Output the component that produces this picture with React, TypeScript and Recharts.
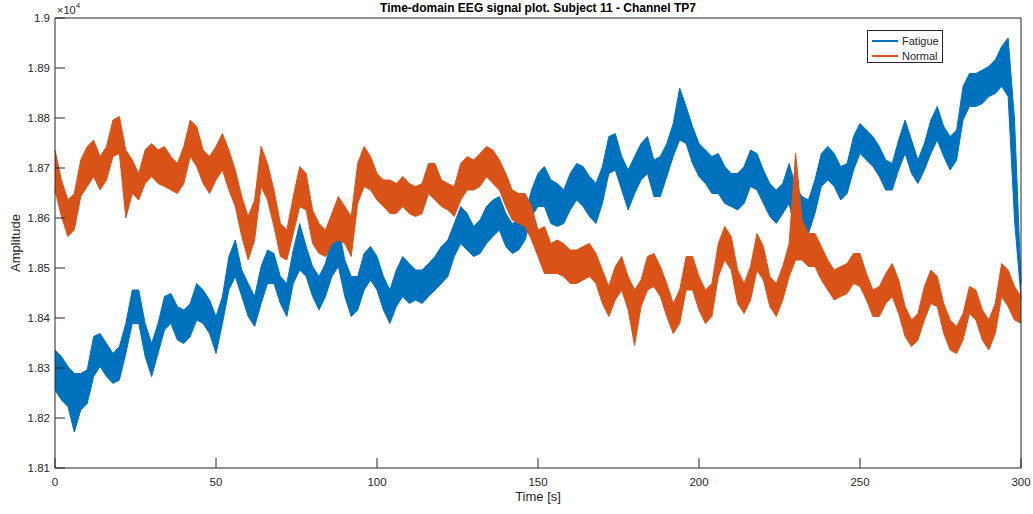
import { ComposedChart, Area, XAxis, YAxis } from 'recharts'

// envelope readings every 2 s (t = 0, 2, ..., 300), amplitude units
const sampleStep = 2

const fatigueHi = [
  18336, 18323, 18303, 18289, 18289, 18296, 18363, 18369, 18349, 18329,
  18343, 18389, 18456, 18456, 18389, 18349, 18389, 18443, 18449, 18423,
  18416, 18429, 18469, 18456, 18436, 18403, 18443, 18523, 18556, 18496,
  18469, 18443, 18503, 18536, 18529, 18483, 18469, 18536, 18589, 18543,
  18503, 18483, 18509, 18563, 18583, 18516, 18483, 18483, 18529, 18543,
  18523, 18483, 18456, 18496, 18523, 18509, 18496, 18496, 18509, 18523,
  18543, 18556, 18589, 18623, 18609, 18583, 18596, 18623, 18636, 18643,
  18609, 18589, 18596, 18609, 18656, 18689, 18703, 18676, 18669, 18656,
  18689, 18709, 18703, 18683, 18669, 18703, 18763, 18769, 18723, 18696,
  18723, 18749, 18763, 18716, 18723, 18749, 18789, 18860, 18823, 18783,
  18749, 18736, 18723, 18729, 18703, 18689, 18689, 18703, 18736, 18729,
  18696, 18669, 18656, 18669, 18709, 18663, 18643, 18636, 18676, 18729,
  18743, 18729, 18703, 18709, 18763, 18789, 18776, 18763, 18743, 18716,
  18709, 18756, 18796, 18756, 18716, 18749, 18796, 18823, 18783, 18763,
  18776, 18863, 18889, 18889, 18896, 18903, 18916, 18943, 18960, 18796,
  18470,
]

const fatigueLo = [
  18256, 18236, 18223, 18172, 18216, 18229, 18283, 18303, 18283, 18269,
  18276, 18329, 18389, 18389, 18323, 18283, 18329, 18376, 18389, 18356,
  18349, 18363, 18396, 18389, 18369, 18329, 18389, 18456, 18483, 18443,
  18403, 18383, 18429, 18469, 18469, 18429, 18403, 18469, 18496, 18483,
  18443, 18416, 18443, 18483, 18503, 18443, 18403, 18416, 18456, 18476,
  18456, 18416, 18389, 18423, 18443, 18429, 18436, 18429, 18443, 18456,
  18469, 18483, 18523, 18549, 18536, 18523, 18529, 18549, 18563, 18576,
  18543, 18529, 18536, 18556, 18603, 18623, 18623, 18589, 18583, 18589,
  18616, 18636, 18623, 18603, 18589, 18629, 18689, 18696, 18656, 18616,
  18649, 18676, 18689, 18643, 18643, 18683, 18723, 18756, 18749, 18709,
  18683, 18669, 18649, 18649, 18629, 18623, 18616, 18629, 18663, 18656,
  18629, 18603, 18589, 18609, 18629, 18569, 18583, 18569, 18609, 18663,
  18676, 18663, 18636, 18649, 18696, 18729, 18716, 18703, 18683, 18656,
  18656, 18696, 18729, 18689, 18669, 18696, 18729, 18756, 18723, 18696,
  18716, 18796, 18823, 18823, 18829, 18843, 18849, 18863, 18843, 18596,
  18440,
]

const normalHi = [
  18736, 18676, 18636, 18649, 18716, 18743, 18756, 18723, 18743, 18796,
  18803, 18736, 18716, 18689, 18736, 18749, 18736, 18743, 18723, 18709,
  18743, 18796, 18783, 18736, 18723, 18743, 18769, 18736, 18696, 18643,
  18603, 18636, 18743, 18709, 18656, 18589, 18576, 18643, 18703, 18689,
  18616, 18589, 18576, 18609, 18643, 18623, 18603, 18709, 18743, 18723,
  18689, 18676, 18676, 18669, 18683, 18669, 18663, 18669, 18709, 18709,
  18676, 18669, 18663, 18709, 18723, 18716, 18729, 18743, 18736, 18716,
  18689, 18656, 18649, 18649, 18623, 18576, 18583, 18549, 18556, 18549,
  18536, 18536, 18543, 18549, 18529, 18496, 18463, 18503, 18523, 18483,
  18456, 18476, 18523, 18529, 18503, 18469, 18429, 18456, 18523, 18523,
  18483, 18456, 18469, 18549, 18583, 18563, 18496, 18469, 18503, 18569,
  18543, 18483, 18469, 18503, 18549, 18730, 18596, 18569, 18569, 18543,
  18516, 18496, 18503, 18509, 18529, 18529, 18489, 18456, 18463, 18489,
  18509, 18476, 18423, 18396, 18409, 18463, 18496, 18483, 18429, 18396,
  18383, 18409, 18463, 18456, 18416, 18396, 18429, 18509, 18496, 18463,
  18443,
]

const normalLo = [
  18656, 18603, 18563, 18576, 18643, 18663, 18683, 18656, 18676, 18723,
  18729, 18600, 18649, 18636, 18669, 18683, 18669, 18663, 18656, 18649,
  18669, 18723, 18703, 18669, 18649, 18676, 18696, 18656, 18623, 18563,
  18516, 18556, 18663, 18636, 18583, 18523, 18516, 18569, 18623, 18616,
  18549, 18529, 18523, 18549, 18556, 18549, 18523, 18629, 18663, 18656,
  18636, 18623, 18609, 18609, 18623, 18609, 18603, 18609, 18649, 18636,
  18623, 18616, 18603, 18636, 18656, 18656, 18663, 18683, 18669, 18656,
  18623, 18596, 18589, 18583, 18556, 18523, 18489, 18489, 18489, 18483,
  18469, 18469, 18476, 18483, 18469, 18429, 18403, 18436, 18456, 18416,
  18345, 18423, 18456, 18463, 18443, 18403, 18369, 18389, 18456, 18456,
  18416, 18389, 18403, 18483, 18516, 18496, 18429, 18409, 18436, 18496,
  18476, 18423, 18403, 18436, 18483, 18516, 18516, 18503, 18503, 18476,
  18456, 18436, 18443, 18449, 18469, 18463, 18436, 18403, 18403, 18429,
  18443, 18409, 18363, 18343, 18356, 18396, 18429, 18423, 18369, 18336,
  18329, 18356, 18409, 18396, 18356, 18336, 18369, 18443, 18423, 18396,
  18389,
]

const xTicks = [0, 50, 100, 150, 200, 250, 300]
const yTicks = [18100, 18200, 18300, 18400, 18500, 18600, 18700, 18800, 18900, 19000]

const BLUE = '#0072BD'
const ORANGE = '#D95319'
const AXIS = '#262626'
const FONT = '"Liberation Sans", Arial, Helvetica, sans-serif'

const rows = fatigueHi.map((_, i) => ({
  t: i * sampleStep,
  f: [fatigueLo[i], fatigueHi[i]],
  n: [normalLo[i], normalHi[i]],
}))

const fmtY = (v: number) => String(Number((v / 10000).toFixed(2)))

export default function App() {
  return (
    <div style={{ position: 'absolute', left: 0, top: 0, width: 1033, height: 514, background: '#fff', fontFamily: FONT, color: AXIS }}>
      <ComposedChart width={1033} height={514} data={rows} margin={{ top: 0, right: 0, bottom: 0, left: 0 }}>
        <XAxis
          dataKey="t"
          type="number"
          domain={[0, 300]}
          ticks={xTicks}
          interval={0}
          height={46}
          tickSize={-10}
          tickMargin={20}
          stroke={AXIS}
          tick={{ fill: AXIS, fontSize: 11.5, fontFamily: FONT }}
        />
        <XAxis xAxisId="top" orientation="top" dataKey="t" type="number" domain={[0, 300]} ticks={xTicks} interval={0} height={18} tickSize={-10} stroke={AXIS} tick={false} />
        <YAxis
          type="number"
          domain={[18100, 19000]}
          ticks={yTicks}
          interval={0}
          width={55}
          tickSize={-10}
          tickMargin={15}
          stroke={AXIS}
          tickFormatter={fmtY}
          tick={{ fill: AXIS, fontSize: 11.5, fontFamily: FONT }}
        />
        <YAxis yAxisId="right" orientation="right" type="number" domain={[18100, 19000]} ticks={yTicks} interval={0} width={12} tickSize={-10} stroke={AXIS} tick={false} />
        <Area type="linear" dataKey="f" stroke={BLUE} strokeWidth={1} fill={BLUE} fillOpacity={1} dot={false} activeDot={false} isAnimationActive={false} />
        <Area type="linear" dataKey="n" stroke={ORANGE} strokeWidth={1} fill={ORANGE} fillOpacity={1} dot={false} activeDot={false} isAnimationActive={false} />
      </ComposedChart>

      <div style={{ position: 'absolute', left: 0, width: 1076, top: 1, textAlign: 'center', fontWeight: 'bold', fontSize: 12, whiteSpace: 'nowrap', color: '#000' }}>
        Time-domain EEG signal plot. Subject 11 - Channel TP7
      </div>
      <div style={{ position: 'absolute', left: 57, top: 2, fontSize: 11, whiteSpace: 'nowrap' }}>
        ×10<sup style={{ fontSize: 8, position: 'relative', top: -1 }}>4</sup>
      </div>
      <div style={{ position: 'absolute', left: 0, width: 1076, top: 489, textAlign: 'center', fontSize: 13 }}>Time [s]</div>
      <div style={{ position: 'absolute', left: 15, top: 243, fontSize: 13, transform: 'translate(-50%, -50%) rotate(-90deg)', whiteSpace: 'nowrap' }}>
        Amplitude
      </div>

      <div style={{ position: 'absolute', left: 867, top: 30, width: 74, height: 31, border: `1px solid ${AXIS}`, background: '#fff', fontSize: 11 }}>
        {[{ name: 'Fatigue', color: BLUE }, { name: 'Normal', color: ORANGE }].map((s, i) => (
          <div key={s.name} style={{ position: 'absolute', left: 4, top: 3 + i * 15, height: 14, display: 'flex', alignItems: 'center' }}>
            <span style={{ display: 'inline-block', width: 26, height: 1.4, background: s.color, marginRight: 4 }} />
            <span>{s.name}</span>
          </div>
        ))}
      </div>
    </div>
  )
}
